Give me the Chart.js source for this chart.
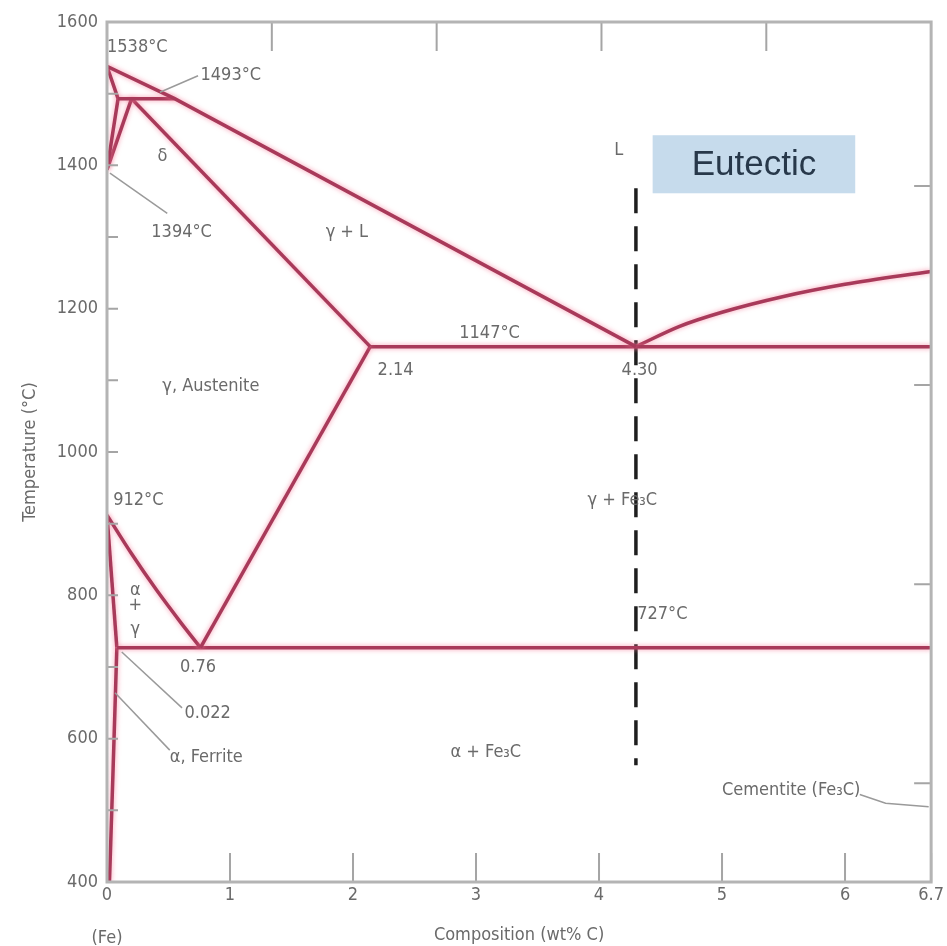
<!DOCTYPE html>
<html>
<head>
<meta charset="utf-8">
<title>Fe–Fe3C phase diagram</title>
<script src="https://cdn.jsdelivr.net/npm/chart.js@4"></script>
<style>
  html, body { margin: 0; padding: 0; background: #fff; }
</style>
</head>
<body>
<canvas id="chart" width="947" height="946"></canvas>
<script>
// axis ticks
const xTicks = [0, 1, 2, 3, 4, 5, 6, 6.7]
const yTicks = [400, 600, 800, 1000, 1200, 1400, 1600]
const yMinorTicks = [500, 700, 900, 1100, 1300, 1500]
const topTicksFe3C = [20, 40, 60, 80]          // wt% Fe3C, top axis
const rightTicksF = [1000, 1500, 2000, 2500]    // °F, right axis

// phase boundaries, wt% C vs °C
const liquidusX = [0, 0.55, 4.30]
const liquidusY = [1538, 1493, 1147]
const peritecticX = [0.09, 0.55]
const peritecticY = [1493, 1493]
const deltaX = [0, 0.09, 0]
const deltaY = [1538, 1493, 1394]
const deltaGammaX = [0, 0.2]
const deltaGammaY = [1394, 1493]
const solidusX = [0.2, 2.14]
const solidusY = [1493, 1147]
const eutecticX = [2.14, 6.7]
const eutecticY = [1147, 1147]
const liquidusFe3CX = [4.30, 4.65, 5.0, 5.5, 6.0, 6.7]
const liquidusFe3CY = [1147, 1175, 1195, 1217, 1234, 1252]
const acmX = [0.76, 2.14]
const acmY = [727, 1147]
const a3X = [0, 0.2, 0.4, 0.6, 0.76]
const a3Y = [912, 858, 808, 762, 727]
const eutectoidX = [0.08, 6.7]
const eutectoidY = [727, 727]
const alphaUpperX = [0, 0.08]
const alphaUpperY = [912, 727]
const alphaLowerX = [0.08, 0.05, 0.02]
const alphaLowerY = [727, 560, 400]

// eutectic composition marker
const eutMarkX = [4.30, 4.30]
const eutMarkY = [1368, 563]

// text labels placed in data units
const labels = [
  ['1538°C', 0.0, 1565, 'left'],
  ['1493°C', 0.76, 1526, 'left'],
  ['δ', 0.45, 1412, 'center'],
  ['1394°C', 0.36, 1306, 'left'],
  ['γ + L', 1.95, 1306, 'center'],
  ['L', 4.16, 1421, 'center'],
  ['1147°C', 3.11, 1166, 'center'],
  ['2.14', 2.20, 1114, 'left'],
  ['4.30', 4.33, 1114, 'center'],
  ['γ, Austenite', 0.45, 1092, 'left'],
  ['912°C', 0.05, 933, 'left'],
  ['γ + Fe₃C', 4.19, 933, 'center'],
  ['727°C', 4.31, 773, 'left'],
  ['α', 0.23, 807, 'center'],
  ['+', 0.23, 786, 'center'],
  ['γ', 0.23, 752, 'center'],
  ['0.76', 0.74, 699, 'center'],
  ['0.022', 0.63, 636, 'left'],
  ['α, Ferrite', 0.51, 574, 'left'],
  ['α + Fe₃C', 3.08, 581, 'center'],
  ['Cementite (Fe₃C)', 5.0, 528, 'left']
]
const leaders = [
  [[0.43, 1502], [0.74, 1525]],
  [[0.024, 1389], [0.49, 1333]],
  [[0.12, 721], [0.61, 643]],
  [[0.065, 664], [0.51, 584]],
  [[6.12, 522], [6.33, 510], [6.68, 505]]
]
const eutecticBox = { text: 'Eutectic', x1: 4.436, x2: 6.083, y1: 1442, y2: 1361 }

const FONT = '"Liberation Sans Narrow", "DejaVu Sans Condensed", sans-serif'
const TEXT = '#6a6a6a'
const LINE = '#a83a5a'

const phaseLines = [
  [liquidusX, liquidusY],
  [peritecticX, peritecticY],
  [deltaX, deltaY],
  [deltaGammaX, deltaGammaY],
  [solidusX, solidusY],
  [eutecticX, eutecticY],
  [liquidusFe3CX, liquidusFe3CY, true],
  [acmX, acmY],
  [a3X, a3Y, true],
  [eutectoidX, eutectoidY],
  [alphaUpperX, alphaUpperY],
  [alphaLowerX, alphaLowerY, true]
]

const toPoints = (xs, ys) => xs.map((x, i) => ({ x, y: ys[i] }))

const datasets = phaseLines.map(([xs, ys, curved]) => ({
  data: toPoints(xs, ys),
  showLine: true,
  borderColor: LINE,
  borderWidth: 3.5,
  pointRadius: 0,
  cubicInterpolationMode: curved ? 'monotone' : 'default',
  tension: 0
}))

datasets.push({
  data: toPoints(eutMarkX, eutMarkY),
  showLine: true,
  borderColor: '#1e1e1e',
  borderWidth: 3.5,
  borderDash: [25, 13],
  pointRadius: 0
})
const haloCount = phaseLines.length

// frame, inward ticks, labels, leader lines, eutectic box
const decorations = {
  id: 'decorations',
  beforeDatasetsDraw(chart) {
    const { ctx, scales: { x, y } } = chart
    const b = eutecticBox
    const l = x.getPixelForValue(b.x1), r = x.getPixelForValue(b.x2)
    const t = y.getPixelForValue(b.y1), bt = y.getPixelForValue(b.y2)
    ctx.save()
    ctx.fillStyle = '#c6dbec'
    ctx.fillRect(l, t, r - l, bt - t)
    ctx.fillStyle = '#27384a'
    ctx.font = '35px "Liberation Sans", Arial, sans-serif'
    ctx.textAlign = 'center'
    ctx.textBaseline = 'middle'
    ctx.fillText(b.text, (l + r) / 2, (t + bt) / 2 + 1)
    ctx.restore()
  },
  beforeDatasetDraw(chart, args) {
    if (args.index >= haloCount) return
    const ctx = chart.ctx
    ctx.save()
    ctx.shadowColor = 'rgba(245, 120, 150, 0.75)'
    ctx.shadowBlur = 5
  },
  afterDatasetDraw(chart, args) {
    if (args.index >= haloCount) return
    chart.ctx.restore()
  },
  afterDatasetsDraw(chart) {
    const { ctx, chartArea: a, scales: { x, y } } = chart
    ctx.save()

    // ticks
    ctx.strokeStyle = '#a5a5a5'
    ctx.lineWidth = 2
    ctx.beginPath()
    xTicks.forEach(v => {
      const px = x.getPixelForValue(v)
      ctx.moveTo(px, a.bottom); ctx.lineTo(px, a.bottom - 29)
    })
    topTicksFe3C.forEach(p => {
      const px = x.getPixelForValue(p * 6.7 / 100)
      ctx.moveTo(px, a.top); ctx.lineTo(px, a.top + 29)
    })
    yTicks.concat(yMinorTicks).forEach(v => {
      const py = y.getPixelForValue(v)
      ctx.moveTo(a.left, py); ctx.lineTo(a.left + 11, py)
    })
    rightTicksF.forEach(f => {
      const py = y.getPixelForValue((f - 32) * 5 / 9)
      ctx.moveTo(a.right, py); ctx.lineTo(a.right - 17, py)
    })
    ctx.stroke()

    // frame
    ctx.strokeStyle = '#b4b4b4'
    ctx.lineWidth = 3
    ctx.strokeRect(a.left, a.top, a.right - a.left, a.bottom - a.top)

    // leader lines
    ctx.strokeStyle = '#9a9a9a'
    ctx.lineWidth = 1.5
    leaders.forEach(pts => {
      ctx.beginPath()
      pts.forEach(([vx, vy], i) => {
        const px = x.getPixelForValue(vx), py = y.getPixelForValue(vy)
        i ? ctx.lineTo(px, py) : ctx.moveTo(px, py)
      })
      ctx.stroke()
    })

    // labels
    ctx.fillStyle = TEXT
    ctx.font = '18px ' + FONT
    ctx.textBaseline = 'middle'
    labels.forEach(([text, vx, vy, align]) => {
      ctx.textAlign = align
      ctx.fillText(text, x.getPixelForValue(vx), y.getPixelForValue(vy))
    })
    ctx.textAlign = 'center'
    ctx.fillText('(Fe)', x.getPixelForValue(0), a.bottom + 56)
    ctx.restore()
  }
}

new Chart(document.getElementById('chart'), {
  type: 'scatter',
  data: { datasets },
  options: {
    responsive: false,
    animation: false,
    devicePixelRatio: 1,
    layout: { padding: { left: 0, right: 15, top: 22, bottom: 0 } },
    plugins: { legend: { display: false }, tooltip: { enabled: false } },
    scales: {
      x: {
        type: 'linear',
        min: 0,
        max: 6.7,
        afterFit: s => { s.height = 64 },
        afterBuildTicks: s => { s.ticks = xTicks.map(value => ({ value })) },
        grid: { display: false, drawTicks: false },
        border: { display: false },
        ticks: {
          padding: 3,
          color: TEXT,
          font: { family: FONT, size: 18 },
          maxRotation: 0,
          autoSkip: false,
          callback: v => String(v)
        },
        title: {
          display: true,
          text: 'Composition (wt% C)',
          color: TEXT,
          font: { family: FONT, size: 18 },
          padding: { top: 0, bottom: 0 }
        }
      },
      y: {
        type: 'linear',
        min: 400,
        max: 1600,
        afterFit: s => { s.width = 107 },
        afterBuildTicks: s => { s.ticks = yTicks.map(value => ({ value })) },
        grid: { display: false, drawTicks: false },
        border: { display: false },
        ticks: {
          padding: 9,
          color: TEXT,
          font: { family: FONT, size: 18 },
          callback: v => String(v)
        },
        title: {
          display: true,
          text: 'Temperature (°C)',
          color: TEXT,
          font: { family: FONT, size: 18 },
          padding: { top: 20, bottom: 0 }
        }
      }
    }
  },
  plugins: [decorations]
})
</script>
</body>
</html>
